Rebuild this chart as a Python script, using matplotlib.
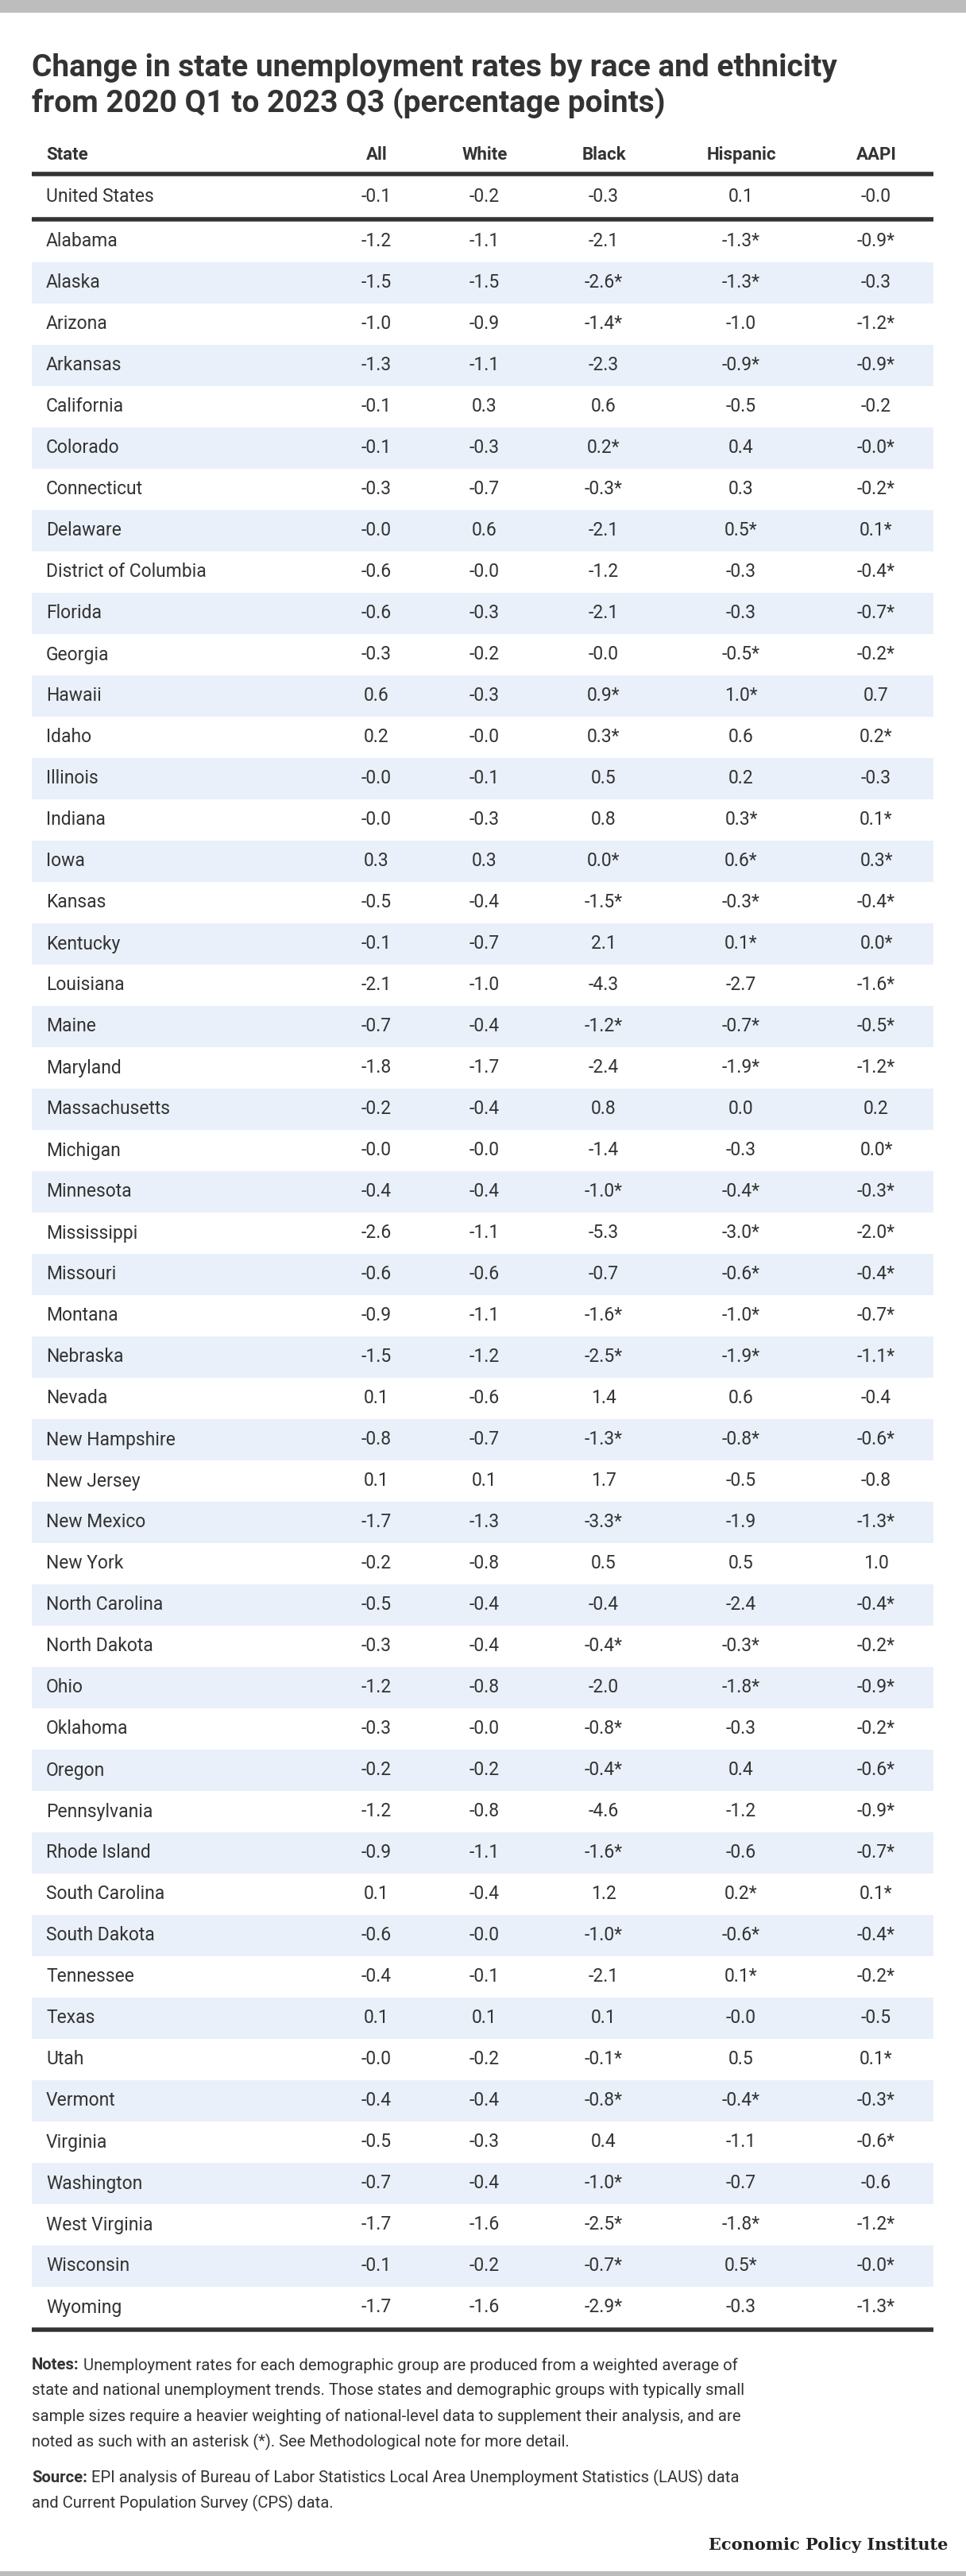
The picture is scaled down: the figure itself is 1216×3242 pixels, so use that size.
import matplotlib
matplotlib.use("Agg")
import matplotlib.pyplot as plt

states = ["United States","Alabama","Alaska","Arizona","Arkansas","California","Colorado","Connecticut","Delaware","District of Columbia","Florida","Georgia","Hawaii","Idaho","Illinois","Indiana","Iowa","Kansas","Kentucky","Louisiana","Maine","Maryland","Massachusetts","Michigan","Minnesota","Mississippi","Missouri","Montana","Nebraska","Nevada","New Hampshire","New Jersey","New Mexico","New York","North Carolina","North Dakota","Ohio","Oklahoma","Oregon","Pennsylvania","Rhode Island","South Carolina","South Dakota","Tennessee","Texas","Utah","Vermont","Virginia","Washington","West Virginia","Wisconsin","Wyoming"]
col_all = ["-0.1","-1.2","-1.5","-1.0","-1.3","-0.1","-0.1","-0.3","-0.0","-0.6","-0.6","-0.3","0.6","0.2","-0.0","-0.0","0.3","-0.5","-0.1","-2.1","-0.7","-1.8","-0.2","-0.0","-0.4","-2.6","-0.6","-0.9","-1.5","0.1","-0.8","0.1","-1.7","-0.2","-0.5","-0.3","-1.2","-0.3","-0.2","-1.2","-0.9","0.1","-0.6","-0.4","0.1","-0.0","-0.4","-0.5","-0.7","-1.7","-0.1","-1.7"]
col_white = ["-0.2","-1.1","-1.5","-0.9","-1.1","0.3","-0.3","-0.7","0.6","-0.0","-0.3","-0.2","-0.3","-0.0","-0.1","-0.3","0.3","-0.4","-0.7","-1.0","-0.4","-1.7","-0.4","-0.0","-0.4","-1.1","-0.6","-1.1","-1.2","-0.6","-0.7","0.1","-1.3","-0.8","-0.4","-0.4","-0.8","-0.0","-0.2","-0.8","-1.1","-0.4","-0.0","-0.1","0.1","-0.2","-0.4","-0.3","-0.4","-1.6","-0.2","-1.6"]
col_black = ["-0.3","-2.1","-2.6*","-1.4*","-2.3","0.6","0.2*","-0.3*","-2.1","-1.2","-2.1","-0.0","0.9*","0.3*","0.5","0.8","0.0*","-1.5*","2.1","-4.3","-1.2*","-2.4","0.8","-1.4","-1.0*","-5.3","-0.7","-1.6*","-2.5*","1.4","-1.3*","1.7","-3.3*","0.5","-0.4","-0.4*","-2.0","-0.8*","-0.4*","-4.6","-1.6*","1.2","-1.0*","-2.1","0.1","-0.1*","-0.8*","0.4","-1.0*","-2.5*","-0.7*","-2.9*"]
col_hisp = ["0.1","-1.3*","-1.3*","-1.0","-0.9*","-0.5","0.4","0.3","0.5*","-0.3","-0.3","-0.5*","1.0*","0.6","0.2","0.3*","0.6*","-0.3*","0.1*","-2.7","-0.7*","-1.9*","0.0","-0.3","-0.4*","-3.0*","-0.6*","-1.0*","-1.9*","0.6","-0.8*","-0.5","-1.9","0.5","-2.4","-0.3*","-1.8*","-0.3","0.4","-1.2","-0.6","0.2*","-0.6*","0.1*","-0.0","0.5","-0.4*","-1.1","-0.7","-1.8*","0.5*","-0.3"]
col_aapi = ["-0.0","-0.9*","-0.3","-1.2*","-0.9*","-0.2","-0.0*","-0.2*","0.1*","-0.4*","-0.7*","-0.2*","0.7","0.2*","-0.3","0.1*","0.3*","-0.4*","0.0*","-1.6*","-0.5*","-1.2*","0.2","0.0*","-0.3*","-2.0*","-0.4*","-0.7*","-1.1*","-0.4","-0.6*","-0.8","-1.3*","1.0","-0.4*","-0.2*","-0.9*","-0.2*","-0.6*","-0.9*","-0.7*","0.1*","-0.4*","-0.2*","-0.5","0.1*","-0.3*","-0.6*","-0.6","-1.2*","-0.0*","-1.3*"]
headers = ["All","White","Black","Hispanic","AAPI"]

W, H = 1216, 3242
plt.rcParams['font.family'] = ['Roboto', 'DejaVu Sans']
fig = plt.figure(figsize=(W/100, H/100), dpi=100)
ax = fig.add_axes([0, 0, 1, 1])
ax.set_xlim(0, W); ax.set_ylim(H, 0); ax.axis("off")
TXT = "#333333"
BAND = "#e9f0f9"
L, R = 40, 1175
xs = [474, 610, 760, 933, 1103]

ax.axhspan(0, 16, color="#bdbdbd", lw=0)
ax.axhspan(3236, H, color="#bdbdbd", lw=0)
ax.text(40, 96, "Change in state unemployment rates by race and ethnicity", fontsize=28, weight="bold", color=TXT, va="baseline")
ax.text(40, 141, "from 2020 Q1 to 2023 Q3 (percentage points)", fontsize=28, weight="bold", color=TXT, va="baseline")

ax.text(58, 195, "State", fontsize=16, weight="bold", color=TXT, va="center")
for x, h in zip(xs, headers):
    ax.text(x, 195, h, fontsize=16, weight="bold", color=TXT, va="center", ha="center")
ax.plot([L, R], [219, 219], color="#333333", lw=4, solid_capstyle="butt")
ax.plot([L, R], [276, 276], color="#333333", lw=4, solid_capstyle="butt")

cols = [col_all, col_white, col_black, col_hisp, col_aapi]
def yc(i):
    return 248 if i == 0 else 304 + (i - 1) * 52
for i, s in enumerate(states):
    y = yc(i)
    if i >= 1 and i % 2 == 0:
        ax.axhspan(y - 26, y + 26, xmin=L/W, xmax=R/W, color=BAND, lw=0, zorder=0)
    ax.text(58, y, s, fontsize=16.5, color=TXT, va="center")
    for x, c in zip(xs, cols):
        ax.text(x, y, c[i], fontsize=16.5, color=TXT, va="center", ha="center")
ax.plot([L, R], [2932, 2932], color="#333333", lw=4, solid_capstyle="butt")

fig.canvas.draw()
rend = fig.canvas.get_renderer()
def bold_prefix(prefix, rest, y, fs=14.6):
    t = ax.text(40, y, prefix, fontsize=fs, weight="bold", color=TXT, va="center")
    bb = t.get_window_extent(renderer=rend)
    ax.text(40 + bb.width + 5, y, rest, fontsize=fs, color=TXT, va="center")

bold_prefix("Notes:", "Unemployment rates for each demographic group are produced from a weighted average of", 2977)
for t, y in [("state and national unemployment trends. Those states and demographic groups with typically small", 3009),
             ("sample sizes require a heavier weighting of national-level data to supplement their analysis, and are", 3041),
             ("noted as such with an asterisk (*). See Methodological note for more detail.", 3073)]:
    ax.text(40, y, t, fontsize=14.6, color=TXT, va="center")
bold_prefix("Source:", "EPI analysis of Bureau of Labor Statistics Local Area Unemployment Statistics (LAUS) data", 3118)
ax.text(40, 3150, "and Current Population Survey (CPS) data.", fontsize=14.6, color=TXT, va="center")
ax.text(1193, 3203, "Economic Policy Institute", fontsize=15, weight="bold", family="DejaVu Serif", color="#222222", va="center", ha="right")

fig.savefig("out.png", dpi=100)
